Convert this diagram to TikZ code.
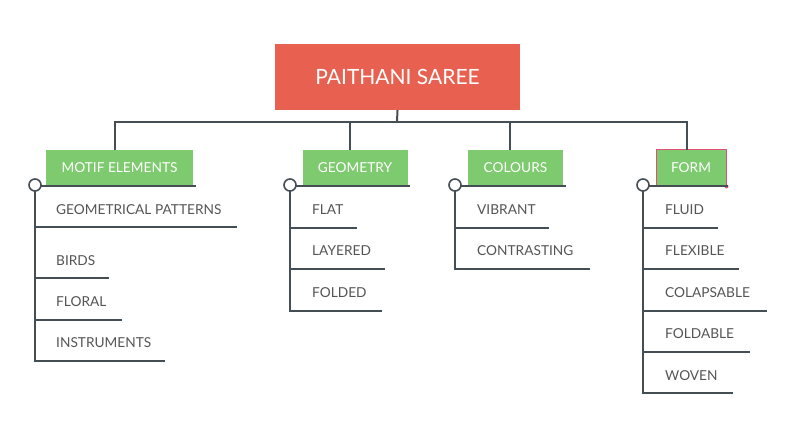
\documentclass[tikz,border=0pt]{standalone}
\usepackage{fontspec}
\setmainfont{Lato}
\definecolor{rootred}{HTML}{E8604F}
\definecolor{leafgreen}{HTML}{7DCB6E}
\definecolor{linegrey}{HTML}{454D55}
\definecolor{textgrey}{HTML}{555555}
\definecolor{selpink}{HTML}{E0507A}
\begin{document}
\begin{tikzpicture}[x=1pt,y=-1pt,
  rootbox/.style={fill=rootred,text=white,minimum width=245pt,minimum height=66pt,inner sep=0pt,font=\fontsize{21}{25}\selectfont},
  catbox/.style={fill=leafgreen,text=white,minimum height=36pt,inner sep=0pt,font=\fontsize{13.7}{16}\selectfont},
  leaf/.style={anchor=west,text=textgrey,inner sep=0pt,font=\fontsize{13.7}{16}\selectfont},
  knob/.style={circle,draw=linegrey,fill=white,line width=1.6pt,minimum size=12pt,inner sep=0pt},
  conn/.style={draw=linegrey,line width=2pt}]
\useasboundingbox (0,0) rectangle (793,435);
\fill[white] (0,0) rectangle (793,435);

% root
\node[rootbox] (root) at (397.5,77) {PAITHANI SAREE};
\coordinate (hub) at (397,122);

% categories
\node[catbox,minimum width=147pt] (m) at (119.5,168) {MOTIF ELEMENTS};
\node[catbox,minimum width=105pt] (g) at (355,168) {GEOMETRY};
\node[catbox,minimum width=95pt] (c) at (515.5,168) {COLOURS};
\node[catbox,minimum width=70pt,draw=selpink,line width=1pt] (f) at (691,168) {FORM};
\fill[selpink] (f.south east) circle (2pt);

% top connectors
\coordinate (mt) at (115,150);
\coordinate (gt) at (350,150);
\coordinate (ct) at (510,150);
\coordinate (ft) at (687,150);
\draw[conn] (root.south) -- (hub);
\draw[conn] (mt) |- (hub) -| (ft);
\draw[conn] (gt) -- (gt |- hub);
\draw[conn] (ct) -- (ct |- hub);

% knobs
\coordinate (mk) at (35,185);
\coordinate (gk) at (290,185);
\coordinate (ck) at (455,185);
\coordinate (fk) at (643,185);

% underlines of categories
\coordinate (mu) at (196,186);
\coordinate (gu) at (410,186);
\coordinate (cu) at (566,186);
\coordinate (fu) at (728,186);
\draw[conn] (mk) -- (mk |- mu) -- (mu);
\draw[conn] (gk) -- (gk |- gu) -- (gu);
\draw[conn] (ck) -- (ck |- cu) -- (cu);
\draw[conn] (fk) -- (fk |- fu) -- (fu);

% MOTIF ELEMENTS children
\node[leaf] (m1) at (56,210) {GEOMETRICAL PATTERNS};
\node[leaf] (m2) at (56,261) {BIRDS};
\node[leaf] (m3) at (56,302) {FLORAL};
\node[leaf] (m4) at (56,343) {INSTRUMENTS};
\coordinate (m1e) at (237,227);
\coordinate (m2e) at (109,278);
\coordinate (m3e) at (122,320);
\coordinate (m4e) at (165,361);
\draw[conn] (mk) -- (mk |- m4e) -- (m4e);
\draw[conn] (mk |- m1e) -- (m1e);
\draw[conn] (mk |- m2e) -- (m2e);
\draw[conn] (mk |- m3e) -- (m3e);

% GEOMETRY children
\node[leaf] (g1) at (312,210) {FLAT};
\node[leaf] (g2) at (312,251) {LAYERED};
\node[leaf] (g3) at (312,293) {FOLDED};
\coordinate (g1e) at (357,228);
\coordinate (g2e) at (385,269);
\coordinate (g3e) at (382,311);
\draw[conn] (gk) -- (gk |- g3e) -- (g3e);
\draw[conn] (gk |- g1e) -- (g1e);
\draw[conn] (gk |- g2e) -- (g2e);

% COLOURS children
\node[leaf] (c1) at (477,210) {VIBRANT};
\node[leaf] (c2) at (477,251) {CONTRASTING};
\coordinate (c1e) at (549,228);
\coordinate (c2e) at (590,269);
\draw[conn] (ck) -- (ck |- c2e) -- (c2e);
\draw[conn] (ck |- c1e) -- (c1e);

% FORM children
\node[leaf] (f1) at (665,210) {FLUID};
\node[leaf] (f2) at (665,251) {FLEXIBLE};
\node[leaf] (f3) at (665,293) {COLAPSABLE};
\node[leaf] (f4) at (665,334) {FOLDABLE};
\node[leaf] (f5) at (665,376) {WOVEN};
\coordinate (f1e) at (718,228);
\coordinate (f2e) at (739,269);
\coordinate (f3e) at (767,311);
\coordinate (f4e) at (750,352);
\coordinate (f5e) at (733,393);
\draw[conn] (fk) -- (fk |- f5e) -- (f5e);
\draw[conn] (fk |- f1e) -- (f1e);
\draw[conn] (fk |- f2e) -- (f2e);
\draw[conn] (fk |- f3e) -- (f3e);
\draw[conn] (fk |- f4e) -- (f4e);

% knob circles on top
\node[knob] at (mk) {};
\node[knob] at (gk) {};
\node[knob] at (ck) {};
\node[knob] at (fk) {};
\end{tikzpicture}
\end{document}
